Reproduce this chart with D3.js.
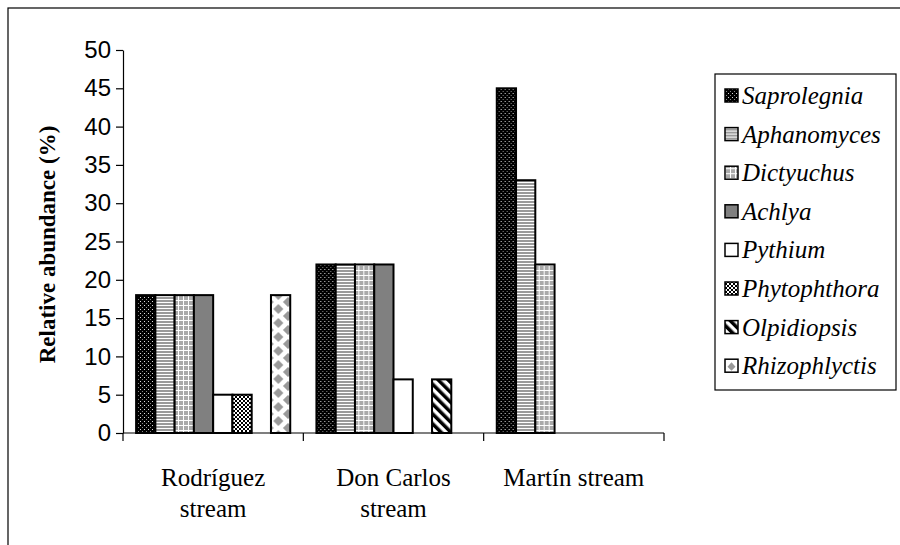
<!DOCTYPE html>
<html>
<head>
<meta charset="utf-8">
<script src="https://cdn.jsdelivr.net/npm/d3@7"></script>
<style>
  body { margin: 0; background: #fff; }
  svg { display: block; }
</style>
</head>
<body>
<div id="chart"></div>
<script>
// data
const streams = [["Rodríguez", "stream"], ["Don Carlos", "stream"], ["Martín stream"]];
const genera = ["Saprolegnia", "Aphanomyces", "Dictyuchus", "Achlya", "Pythium", "Phytophthora", "Olpidiopsis", "Rhizophlyctis"];
const rodriguez = [18, 18, 18, 18, 5, 5, 0, 18];
const donCarlos = [22, 22, 22, 22, 7, 0, 7, 0];
const martin = [45, 33, 22, 0, 0, 0, 0, 0];
const yTicks = [0, 5, 10, 15, 20, 25, 30, 35, 40, 45, 50];

const values = [rodriguez, donCarlos, martin];

const W = 900, H = 545;
const plot = {left: 123, right: 664, top: 50, bottom: 433};
const serif = "'Liberation Serif', 'Times New Roman', serif";

const svg = d3.select("#chart").append("svg")
    .attr("width", W)
    .attr("height", H);

// scales
const x0 = d3.scaleBand()
    .domain(d3.range(streams.length))
    .range([plot.left, plot.right])
    .padding(0);

const x1 = d3.scaleBand()
    .domain(genera)
    .range([0, x0.bandwidth()])
    .paddingInner(0)
    .paddingOuter(0.68);

const y = d3.scaleLinear()
    .domain([0, 50])
    .range([plot.bottom, plot.top]);

// fill patterns, one per genus
const defs = svg.append("defs");
function pattern(id, w, h) {
    return defs.append("pattern")
        .attr("id", id)
        .attr("patternUnits", "userSpaceOnUse")
        .attr("width", w)
        .attr("height", h);
}
let p = pattern("p0", 4, 4);
p.append("rect").attr("width", 4).attr("height", 4).attr("fill", "#000");
p.append("rect").attr("x", 1).attr("y", 1).attr("width", 1).attr("height", 1).attr("fill", "#ddd");
p.append("rect").attr("x", 3).attr("y", 3).attr("width", 1).attr("height", 1).attr("fill", "#888");

p = pattern("p1", 3, 3);
p.append("rect").attr("width", 3).attr("height", 3).attr("fill", "#fff");
p.append("rect").attr("width", 3).attr("height", 2).attr("fill", "#9a9a9a");

p = pattern("p2", 5, 5);
p.append("rect").attr("width", 5).attr("height", 5).attr("fill", "#aaa");
p.append("rect").attr("width", 5).attr("height", 1).attr("fill", "#fff");
p.append("rect").attr("width", 1).attr("height", 5).attr("fill", "#fff");

p = pattern("p3", 4, 4);
p.append("rect").attr("width", 4).attr("height", 4).attr("fill", "#808080");

p = pattern("p4", 4, 4);
p.append("rect").attr("width", 4).attr("height", 4).attr("fill", "#fff");

p = pattern("p5", 4, 4);
p.append("rect").attr("width", 4).attr("height", 4).attr("fill", "#fff");
p.append("rect").attr("width", 2).attr("height", 2).attr("fill", "#000");
p.append("rect").attr("x", 2).attr("y", 2).attr("width", 2).attr("height", 2).attr("fill", "#000");

p = pattern("p6", 7, 7).attr("patternTransform", "rotate(-45)");
p.append("rect").attr("width", 7).attr("height", 7).attr("fill", "#fff");
p.append("rect").attr("width", 3.5).attr("height", 7).attr("fill", "#000");

// diamonds: one column in the middle of the bar, halves on the edges
const bw = x1.bandwidth();
p = pattern("p7", bw, 14).attr("x", x0(0) + x1("Rhizophlyctis")).attr("y", 1);
p.append("rect").attr("width", bw).attr("height", 14).attr("fill", "#fff");
p.append("path")
    .attr("d", `M${bw / 2},2 L${bw / 2 + 5},7 L${bw / 2},12 L${bw / 2 - 5},7 Z`
        + ` M0,-5 L5,0 L0,5 Z M0,9 L5,14 L0,19 Z`
        + ` M${bw},-5 L${bw - 5},0 L${bw},5 Z M${bw},9 L${bw - 5},14 L${bw},19 Z`)
    .attr("fill", "#999");

// outer frame
svg.append("rect")
    .attr("x", 8).attr("y", 8)
    .attr("width", W + 20).attr("height", H + 20)
    .attr("fill", "none")
    .attr("stroke", "#000")
    .attr("stroke-width", 1.2);

// bars
const groups = svg.selectAll("g.stream")
    .data(values)
    .join("g")
    .attr("class", "stream")
    .attr("transform", (d, i) => `translate(${x0(i)},0)`);

groups.selectAll("rect")
    .data(d => d.map((v, k) => ({name: genera[k], k: k, v: v})).filter(e => e.v > 0))
    .join("rect")
    .attr("x", d => x1(d.name))
    .attr("y", d => y(d.v))
    .attr("width", bw)
    .attr("height", d => y(0) - y(d.v))
    .attr("fill", d => `url(#p${d.k})`)
    .attr("stroke", "#000")
    .attr("stroke-width", 2);

// y axis
const yAxis = svg.append("g")
    .attr("transform", `translate(${plot.left},0)`)
    .call(d3.axisLeft(y).tickValues(yTicks).tickSize(7).tickPadding(5).tickSizeOuter(0));
yAxis.select(".domain").attr("stroke", "#000").attr("stroke-width", 1.2);
yAxis.selectAll(".tick line").attr("stroke", "#000").attr("stroke-width", 1.2);
yAxis.selectAll(".tick text")
    .attr("font-family", "'Liberation Sans', Arial, sans-serif")
    .attr("font-size", 24)
    .attr("fill", "#000");

// x axis
const xAxis = svg.append("g")
    .attr("transform", `translate(0,${plot.bottom})`);
xAxis.append("line")
    .attr("x1", plot.left).attr("x2", plot.right)
    .attr("stroke", "#000").attr("stroke-width", 1.2);
xAxis.selectAll("line.tick")
    .data(d3.range(streams.length + 1))
    .join("line")
    .attr("class", "tick")
    .attr("x1", i => i < streams.length ? x0(i) : plot.right)
    .attr("x2", i => i < streams.length ? x0(i) : plot.right)
    .attr("y1", 0).attr("y2", 8)
    .attr("stroke", "#000").attr("stroke-width", 1.2);

xAxis.selectAll("text.cat")
    .data(streams)
    .join("text")
    .attr("class", "cat")
    .attr("text-anchor", "middle")
    .attr("font-family", serif)
    .attr("font-size", 25)
    .attr("x", (d, i) => x0(i) + x0.bandwidth() / 2)
    .attr("y", 53)
    .selectAll("tspan")
    .data(d => d)
    .join("tspan")
    .attr("x", function () { return d3.select(this.parentNode).attr("x"); })
    .attr("dy", (d, i) => i === 0 ? 0 : 31)
    .text(d => d);

// y title
svg.append("text")
    .attr("transform", `translate(47,${(plot.top + plot.bottom) / 2 + 3}) rotate(-90)`)
    .attr("text-anchor", "middle")
    .attr("dominant-baseline", "central")
    .attr("font-family", serif)
    .attr("font-weight", "bold")
    .attr("font-size", 23)
    .text("Relative abundance (%)");

// legend
const legend = svg.append("g").attr("transform", "translate(715,74)");
legend.append("rect")
    .attr("width", 181).attr("height", 316)
    .attr("fill", "#fff")
    .attr("stroke", "#000")
    .attr("stroke-width", 1.2);

const item = legend.selectAll("g.item")
    .data(genera)
    .join("g")
    .attr("class", "item")
    .attr("transform", (d, i) => `translate(0,${22 + i * 38.6})`);
item.append("rect")
    .attr("x", 10).attr("y", -7)
    .attr("width", 13).attr("height", 13)
    .attr("fill", (d, i) => i === 7 ? "#fff" : `url(#p${i})`)
    .attr("stroke", "#000")
    .attr("stroke-width", 1.5);
// small diamond for the last swatch
item.filter((d, i) => i === 7).append("path")
    .attr("d", "M16.5,-4 L20.5,0.5 L16.5,4.5 L12.5,0.5 Z")
    .attr("fill", "#999");
item.append("text")
    .attr("x", 27)
    .attr("y", 8)
    .attr("font-family", serif)
    .attr("font-style", "italic")
    .attr("font-size", 25)
    .text(d => d);
</script>
</body>
</html>
